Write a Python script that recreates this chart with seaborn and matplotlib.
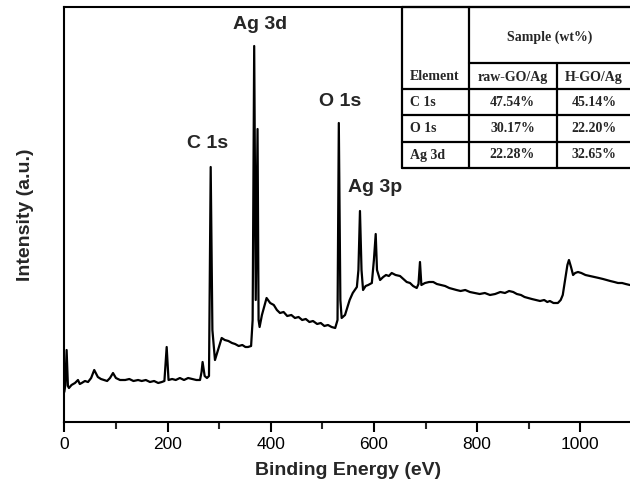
import matplotlib
matplotlib.use("Agg")
import matplotlib.pyplot as plt
import seaborn as sns
import pandas as pd
from matplotlib.lines import Line2D

# ---- spectrum data (binding energy in eV, intensity in a.u.) ----
binding_energy = [
    0, 2, 4.5, 7, 9, 14, 20.7, 26.5, 30, 33.7,
    40, 46, 52, 58, 65, 71, 77, 83, 88.6, 94.4,
    100, 108, 118, 126, 134, 143, 150, 158, 166, 174,
    182, 189, 194, 198.4, 202, 209, 216, 224, 232, 240,
    248, 256, 263, 266, 268, 272, 276.5, 280.4, 283.7, 287,
    292, 298, 305, 311, 318, 325, 331, 338, 345, 351,
    356, 362, 365, 368, 371, 374.5, 376.5, 378.5, 383, 392,
    399, 406, 412, 418, 425, 432, 440, 447, 454, 461,
    468, 475, 482, 490, 497, 504, 511, 518, 525, 529.5,
    532, 535, 537.5, 544, 553, 559, 567, 570, 573, 576,
    579, 584, 589, 596, 600, 603.5, 606, 612, 618, 623.5,
    629, 634.5, 642, 650.6, 657, 663.6, 670, 676, 683, 686.4,
    689.3, 692, 699, 707, 715, 722, 730, 738, 746, 753,
    760, 768, 777, 786, 795, 805, 815, 825, 835, 845,
    854, 862, 870, 877, 885, 892, 899, 906, 914, 922,
    930, 936, 941, 948, 956.5, 962, 966, 969, 972, 975,
    978, 982, 986, 990, 995.5, 1002, 1010, 1019, 1028, 1036,
    1044, 1051, 1058, 1066, 1073, 1081, 1088, 1096,
]
intensity = [
    38, 45, 80, 44, 42, 45, 47, 50, 46, 47,
    49, 48, 52, 60, 53, 51, 50, 49, 52, 57,
    52, 50, 50, 51, 49, 50, 49, 50, 48, 49,
    47, 48, 49, 83, 50, 51, 50, 52, 50, 52,
    51, 50, 50, 58, 68, 54, 52, 54, 263, 100,
    70, 80, 92, 90, 89, 87, 86, 84, 85, 83,
    83, 84, 110, 384, 130, 301, 110, 103, 115, 132,
    127, 125, 120, 117, 118, 114, 115, 112, 113, 110,
    111, 108, 109, 106, 107, 104, 105, 103, 102, 110,
    307, 130, 112, 115, 130, 137, 143, 160, 219, 160,
    140, 144, 145, 147, 170, 196, 160, 150, 153, 155,
    154, 157, 155, 154, 151, 148, 147, 144, 142, 146,
    168, 145, 147, 148, 148, 146, 145, 144, 142, 141,
    140, 139, 140, 138, 137, 136, 137, 135, 136, 138,
    137, 139, 138, 136, 135, 133, 132, 131, 130, 129,
    130, 128, 129, 127, 127, 130, 135, 145, 155, 165,
    170, 163, 155, 157, 158, 157, 155, 154, 153, 152,
    151, 150, 149, 148, 147, 147, 146, 145,
]

peak_labels = ["C 1s", "Ag 3d", "O 1s", "Ag 3p"]
peak_label_x = [277, 380, 534, 603]
peak_label_y = [287, 405, 328, 242]

# ---- table data ----
table_elements = ["C 1s", "O 1s", "Ag 3d"]
raw_go_ag = ["47.54%", "30.17%", "22.28%"]
h_go_ag = ["45.14%", "22.20%", "32.65%"]

df = pd.DataFrame({"Binding Energy (eV)": binding_energy, "Intensity (a.u.)": intensity})

sns.set_theme(style="white")
plt.rcParams["font.family"] = ["Liberation Sans", "DejaVu Sans"]

W, H = 630, 490
fig = plt.figure(figsize=(6.3, 4.9), dpi=100)
ax_left, ax_right, ax_top, ax_bot = 64.3, 631.9, 7, 422
ax = fig.add_axes([ax_left / W, 1 - ax_bot / H, (ax_right - ax_left) / W, (ax_bot - ax_top) / H])

sns.lineplot(data=df, x="Binding Energy (eV)", y="Intensity (a.u.)", ax=ax,
             color="black", linewidth=1.6, estimator=None, sort=False)

ax.set_xlim(0, 1100)
ax.set_ylim(8, 423)
ax.set_xticks([0, 200, 400, 600, 800, 1000])
ax.set_xticks([100, 300, 500, 700, 900], minor=True)
ax.set_yticks([])
ax.tick_params(axis="x", which="major", direction="out", length=7, width=1.5,
               labelsize=12.5, colors="black", bottom=True, pad=4)
ax.tick_params(axis="x", which="minor", direction="out", length=5, width=1.5, bottom=True)
for s in ax.spines.values():
    s.set_linewidth(1.5)
    s.set_color("black")
ax.set_xlabel("Binding Energy (eV)", fontsize=14, fontweight="bold", labelpad=7)
ax.set_ylabel("Intensity (a.u.)", fontsize=14, fontweight="bold", labelpad=22)

for lab, lx, ly in zip(peak_labels, peak_label_x, peak_label_y):
    ax.text(lx, ly, lab, fontsize=14, fontweight="bold", ha="center", va="center")

# ---- table drawn in pixel coordinates ----
def fx(px):
    return px / W

def fy(py):
    return 1 - py / H

tbl_x = [401.5, 468.5, 557, 632]
tbl_y = [7, 63, 89, 115, 142, 168]
lw = 1.6
fig.add_artist(Line2D([fx(tbl_x[0]), fx(tbl_x[3])], [fy(tbl_y[0])] * 2, color="black", lw=lw))
fig.add_artist(Line2D([fx(tbl_x[1]), fx(tbl_x[3])], [fy(tbl_y[1])] * 2, color="black", lw=lw))
for yy in tbl_y[2:]:
    fig.add_artist(Line2D([fx(tbl_x[0]), fx(tbl_x[3])], [fy(yy)] * 2, color="black", lw=lw))
fig.add_artist(Line2D([fx(tbl_x[0])] * 2, [fy(tbl_y[0]), fy(tbl_y[5])], color="black", lw=lw))
fig.add_artist(Line2D([fx(tbl_x[1])] * 2, [fy(tbl_y[0]), fy(tbl_y[5])], color="black", lw=lw))
fig.add_artist(Line2D([fx(tbl_x[2])] * 2, [fy(tbl_y[1]), fy(tbl_y[5])], color="black", lw=lw))

serif = ["Liberation Serif", "DejaVu Serif"]
tfs = 10
fig.text(fx(550), fy(37), "Sample (wt%)", family=serif, fontweight="bold",
         fontsize=tfs, ha="center", va="center")
fig.text(fx(410), fy(77), "Element", family=serif, fontweight="bold", fontsize=tfs, ha="left", va="center")
fig.text(fx(512.5), fy(77), "raw-GO/Ag", family=serif, fontweight="bold", fontsize=tfs, ha="center", va="center")
fig.text(fx(594), fy(77), "H-GO/Ag", family=serif, fontweight="bold", fontsize=tfs, ha="center", va="center")
for i, (el, a, b) in enumerate(zip(table_elements, raw_go_ag, h_go_ag)):
    yc = (tbl_y[2 + i] + tbl_y[3 + i]) / 2
    fig.text(fx(410), fy(yc), el, family=serif, fontweight="bold", fontsize=tfs, ha="left", va="center")
    fig.text(fx(512.5), fy(yc), a, family=serif, fontweight="bold", fontsize=tfs, ha="center", va="center")
    fig.text(fx(594), fy(yc), b, family=serif, fontweight="bold", fontsize=tfs, ha="center", va="center")

fig.savefig("out.png", dpi=100)
